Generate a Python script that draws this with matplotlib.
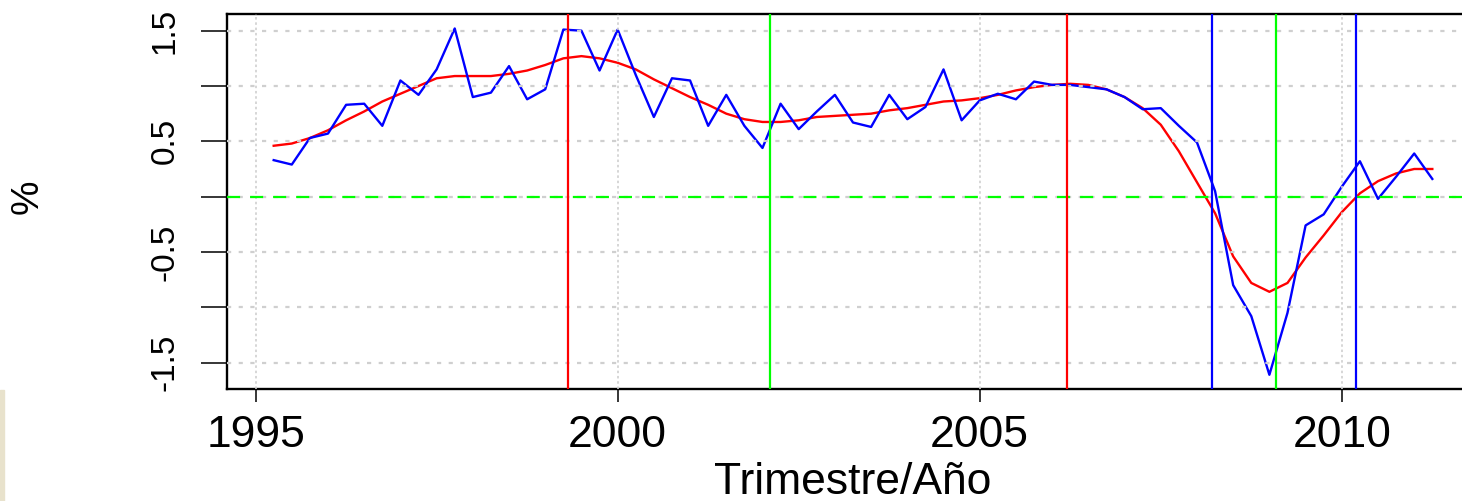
import numpy as np
import matplotlib.pyplot as plt
from matplotlib.patches import Rectangle

plt.rcParams['font.family'] = ['Liberation Sans', 'DejaVu Sans']
plt.rcParams['lines.scale_dashes'] = False

# datos trimestrales, desde 1995 T2
inicio = 1995.25
frecuencia = 4
serie = [0.33, 0.29, 0.53, 0.57, 0.83, 0.84, 0.64, 1.05, 0.92, 1.15,
         1.52, 0.90, 0.94, 1.18, 0.88, 0.97, 1.51, 1.50, 1.14, 1.51,
         1.10, 0.72, 1.07, 1.05, 0.64, 0.92, 0.64, 0.44, 0.84, 0.61,
         0.77, 0.92, 0.67, 0.63, 0.92, 0.70, 0.81, 1.15, 0.69, 0.87,
         0.93, 0.88, 1.04, 1.01, 1.01, 0.99, 0.97, 0.90, 0.79, 0.80,
         0.64, 0.49, 0.05, -0.80, -1.08, -1.61, -1.05, -0.26, -0.16, 0.09,
         0.32, -0.02, 0.18, 0.39, 0.16]
tendencia = [0.46, 0.48, 0.53, 0.60, 0.69, 0.77, 0.86, 0.93, 1.00, 1.07,
             1.09, 1.09, 1.09, 1.11, 1.14, 1.19, 1.25, 1.27, 1.25, 1.21,
             1.15, 1.06, 0.98, 0.90, 0.83, 0.75, 0.70, 0.675, 0.675, 0.69,
             0.72, 0.73, 0.74, 0.75, 0.78, 0.80, 0.83, 0.86, 0.87, 0.89,
             0.92, 0.96, 0.99, 1.01, 1.02, 1.01, 0.97, 0.90, 0.80, 0.65,
             0.41, 0.13, -0.15, -0.54, -0.78, -0.86, -0.78, -0.55, -0.35, -0.14,
             0.03, 0.14, 0.21, 0.25, 0.25]

# fechas marcadas (lineas verticales)
picos = [1999.31, 2006.21]
valles = [2002.10, 2009.09]
otros = [2008.21, 2010.20]

xticks = [1995, 2000, 2005, 2010]
yticks = [-1.5, -1.0, -0.5, 0.0, 0.5, 1.0, 1.5]
ylabels = ['-1.5', '', '-0.5', '', '0.5', '', '1.5']

x = inicio + np.arange(len(serie)) / frecuencia

fig = plt.figure(figsize=(14.62, 5.01), dpi=100)
ax = fig.add_axes([0.1555, 0.2230, 0.8559, 0.7491])

ax.plot(x, tendencia, color='red', lw=1.7, zorder=2)
ax.plot(x, serie, color='blue', lw=1.7, zorder=2.1)

# rejilla
for yv in yticks:
    ax.axhline(yv, color='#cfcfcf', lw=1.6, ls=(0, (3, 5.4)), zorder=3)
for xv in xticks:
    ax.axvline(xv, color='#cfcfcf', lw=1.2, ls=(0, (1.8, 2)), zorder=3)

ax.axhline(0, color='#00ff00', lw=1.6, ls=(0, (9.4, 7.2)), zorder=4)
for v in picos:
    ax.axvline(v, color='red', lw=1.6, zorder=5)
for v in valles:
    ax.axvline(v, color='#00ff00', lw=1.6, zorder=5)
for v in otros:
    ax.axvline(v, color='blue', lw=1.6, zorder=5)

ax.set_xlim(1994.61, 2011.89)
ax.set_ylim(-1.741, 1.651)
ax.set_xticks(xticks)
ax.set_xticklabels([str(t) for t in xticks])
ax.set_yticks(yticks)
ax.set_yticklabels(ylabels, rotation=90, va='center')
ax.tick_params(axis='x', length=9.4, width=1.1, pad=9, labelsize=32)
ax.tick_params(axis='y', length=18.4, width=1.1, pad=15, labelsize=24)
for s in ax.spines.values():
    s.set_linewidth(1.7)

ax.set_xlabel('Trimestre/Año', fontsize=32, va='center')
ax.xaxis.set_label_coords(0.5, -0.2497)
ax.set_ylabel('%', fontsize=28, va='center', ha='center')
ax.yaxis.set_label_coords(-0.160, 0.5125)

fig.add_artist(Rectangle((0, 0), 4 / 1462, 111 / 501, transform=fig.transFigure,
                         color='#e8e2cc', zorder=0))

fig.savefig('out.png', dpi=100)
